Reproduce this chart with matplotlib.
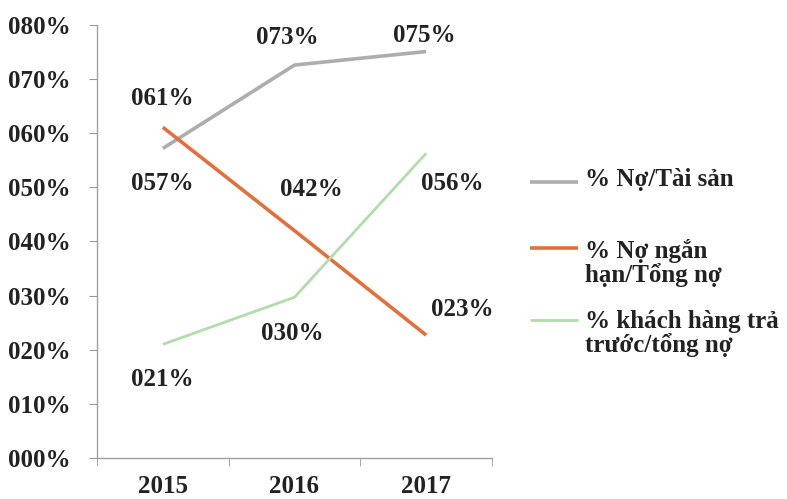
import matplotlib
matplotlib.use("Agg")
import matplotlib.pyplot as plt
from matplotlib.lines import Line2D
from matplotlib.ticker import FuncFormatter, FixedLocator

years = ["2015", "2016", "2017"]
no_tai_san = [57.2, 72.6, 75.1]
no_ngan_han = [61.1, 42.0, 22.7]
khach_hang = [21.0, 29.7, 56.3]
series_names = ["% Nợ/Tài sản", "% Nợ ngắn\nhạn/Tổng nợ", "% khách hàng trả\ntrước/tổng nợ"]
colors = ["#ADADAD", "#E2703C", "#B2DCAC"]
widths = [2.6, 2.6, 2.0]
# label offsets in pixels (dx, dy) for each series/point
offsets = [
    [(-1, -35), (-7, 28), (-2, 16)],
    [(-1, 29), (17, 41), (36, 26)],
    [(-1, -35), (-2, -36), (26, -30)],
]

FONT = ['Liberation Serif', 'DejaVu Serif']
plt.rcParams['font.family'] = FONT
plt.rcParams['font.weight'] = 'bold'

fig = plt.figure(figsize=(7.87, 4.99), dpi=100)
ax = fig.add_axes([97/787, 1-458/499, (492-97)/787, (458-25)/499])

x = list(range(len(years)))
data = [no_tai_san, no_ngan_han, khach_hang]
for vals, c, w, offs in zip(data, colors, widths, offsets):
    ax.plot(x, vals, color=c, lw=w, solid_capstyle='butt')
    for xi, v, (dx, dy) in zip(x, vals, offs):
        ax.annotate(f"{v:03.0f}%", (xi, v), xytext=(dx, dy), textcoords='offset pixels',
                    ha='center', va='center', fontsize=18, fontweight='bold', color='#222222')

ax.set_xlim(-0.5, 2.5)
ax.set_ylim(0, 80)
ax.set_yticks(range(0, 81, 10))
ax.yaxis.set_major_formatter(FuncFormatter(lambda v, p: f"{v:03.0f}%"))
ax.set_xticks(x)
ax.set_xticklabels(years)
ax.xaxis.set_minor_locator(FixedLocator([-0.5, 0.5, 1.5, 2.5]))
ax.tick_params(axis='x', which='major', length=0, pad=12, labelsize=18, labelcolor='#222222')
ax.tick_params(axis='x', which='minor', length=6, direction='out', color='#999999')
ax.tick_params(axis='y', length=6, direction='out', color='#999999', pad=13, labelsize=18, labelcolor='#222222')
for lab in ax.get_yticklabels() + ax.get_xticklabels():
    lab.set_fontweight('bold')

for s in ['top', 'right']:
    ax.spines[s].set_visible(False)
for s in ['left', 'bottom']:
    ax.spines[s].set_color('#A0A0A0')
    ax.spines[s].set_linewidth(1.0)

# legend (keys at first-line level of each label); text anchored at last-line baseline
W, H = 787, 499
line_y = [182, 248, 320]
text_base = [186, 282, 352]
for name, c, w, ly, tb in zip(series_names, colors, widths, line_y, text_base):
    fig.add_artist(Line2D([530/W, 578/W], [1-ly/H, 1-ly/H], color=c, lw=w,
                          transform=fig.transFigure, solid_capstyle='butt'))
    fig.text(585/W, 1-tb/H, name, ha='left', va='baseline', fontsize=18,
             fontweight='bold', color='#222222', linespacing=1.0, family=FONT)

fig.savefig("out.png", dpi=100)
